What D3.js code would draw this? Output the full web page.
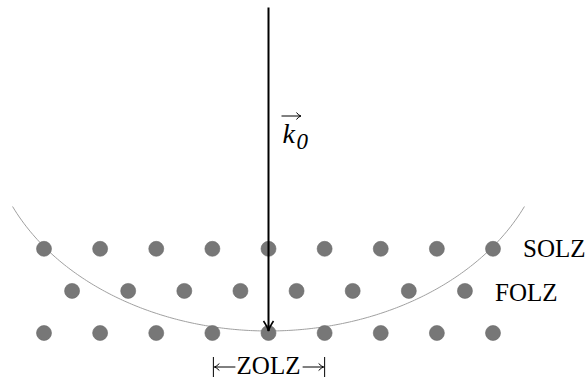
<!DOCTYPE html>
<html>
<head>
<meta charset="utf-8">
<script src="https://cdn.jsdelivr.net/npm/d3@7"></script>
</head>
<body style="margin:0">
<script>
// lattice layers (height in lattice units above ZOLZ) and their labels
const layerNames = ["ZOLZ", "FOLZ", "SOLZ"];
const layerHeights = [0, 0.75, 1.5];
// reciprocal lattice column indices for each layer
const layerColumns = [
  [0, 1, 2, 3, 4, 5, 6, 7, 8],
  [0.5, 1.5, 2.5, 3.5, 4.5, 5.5, 6.5, 7.5],
  [0, 1, 2, 3, 4, 5, 6, 7, 8]
];
// Ewald sphere (as drawn): centre column, semi-axes, lowest point, arc half-width
const sphereCentre = 4;
const sphereAxes = [5.0, 3.76];
const sphereBottom = 0.036;
const arcHalfWidth = 4.56;
// incident beam top (lattice units above ZOLZ)
const beamTop = 5.8;
// ZOLZ bracket ends (columns)
const zolzRange = [3, 5];

const width = 587, height = 380;
const svg = d3.select("body").append("svg")
  .attr("width", width)
  .attr("height", height);

const x = d3.scaleLinear().domain([0, 8]).range([44, 493]);
const unit = x(1) - x(0);
const y = d3.scaleLinear().domain([0, 1]).range([333, 333 - unit]);

// Ewald sphere arc
const [ax, ay] = sphereAxes;
const cy = sphereBottom + ay;
const arcPts = d3.range(-arcHalfWidth, arcHalfWidth + 0.001, 0.04).map(dx => [
  sphereCentre + dx,
  cy - ay * Math.sqrt(1 - (dx * dx) / (ax * ax))
]);
svg.append("path")
  .attr("d", d3.line().x(d => x(d[0])).y(d => y(d[1]))(arcPts))
  .attr("fill", "none")
  .attr("stroke", "#a0a0a0")
  .attr("stroke-width", 1);

// lattice points
const points = [];
layerHeights.forEach((h, i) => layerColumns[i].forEach(c => points.push({c, h})));
svg.selectAll(".pt").data(points).join("circle")
  .attr("class", "pt")
  .attr("cx", d => x(d.c))
  .attr("cy", d => y(d.h))
  .attr("r", 7.5)
  .attr("fill", "#777")
  .attr("stroke", "#6a6a6a")
  .attr("stroke-width", 0.6);

// incident beam k0
const bx = x(sphereCentre);
const tipY = y(sphereBottom);
svg.append("line")
  .attr("x1", bx).attr("x2", bx)
  .attr("y1", y(beamTop)).attr("y2", tipY)
  .attr("stroke", "#000").attr("stroke-width", 2);
svg.append("path")
  .attr("d", `M${bx - 5},${tipY - 10} Q${bx - 1},${tipY - 4} ${bx},${tipY} Q${bx + 1},${tipY - 4} ${bx + 5},${tipY - 10}`)
  .attr("fill", "none").attr("stroke", "#000").attr("stroke-width", 1.6);

// label texts, one per entry
const labels = [
  {t: "k", x: bx + 14, y: 143, size: 28, italic: true},
  {t: "0", x: bx + 28, y: 149, size: 23, italic: true},
  {t: layerNames[2], x: 523, y: y(layerHeights[2]) + 8, size: 25},
  {t: layerNames[1], x: 495, y: y(layerHeights[1]) + 10, size: 25},
  {t: layerNames[0], x: (x(zolzRange[0]) + x(zolzRange[1])) / 2, y: 374, size: 25, mid: true}
];
svg.selectAll("text").data(labels).join("text")
  .attr("x", d => d.x).attr("y", d => d.y)
  .attr("font-family", '"Liberation Serif"')
  .attr("font-size", d => d.size)
  .attr("font-style", d => d.italic ? "italic" : null)
  .attr("text-anchor", d => d.mid ? "middle" : null)
  .text(d => d.t);

// vector arrow over k
svg.append("line")
  .attr("x1", bx + 13).attr("x2", bx + 32)
  .attr("y1", 116).attr("y2", 116)
  .attr("stroke", "#000").attr("stroke-width", 1);
svg.append("path")
  .attr("d", `M${bx + 28},${112.5} Q${bx + 30},115.5 ${bx + 32.5},116 Q${bx + 30},116.5 ${bx + 28},${119.5}`)
  .attr("fill", "none").attr("stroke", "#000").attr("stroke-width", 1);

// ZOLZ bracket
const zx0 = x(zolzRange[0]) + 1, zx1 = x(zolzRange[1]);
const zy = 367;
const g = svg.append("g").attr("stroke", "#000").attr("fill", "none").attr("stroke-width", 1);
g.append("line").attr("x1", zx0).attr("x2", zx0).attr("y1", zy - 10).attr("y2", zy + 10);
g.append("line").attr("x1", zx1).attr("x2", zx1).attr("y1", zy - 10).attr("y2", zy + 10);
g.append("line").attr("x1", zx0 + 1).attr("x2", zx0 + 22).attr("y1", zy).attr("y2", zy);
g.append("line").attr("x1", zx1 - 22).attr("x2", zx1 - 1).attr("y1", zy).attr("y2", zy);
g.append("path").attr("d", `M${zx0 + 6},${zy - 3.5} Q${zx0 + 3},${zy - 0.5} ${zx0 + 1},${zy} Q${zx0 + 3},${zy + 0.5} ${zx0 + 6},${zy + 3.5}`);
g.append("path").attr("d", `M${zx1 - 6},${zy - 3.5} Q${zx1 - 3},${zy - 0.5} ${zx1 - 1},${zy} Q${zx1 - 3},${zy + 0.5} ${zx1 - 6},${zy + 3.5}`);
</script>
</body>
</html>
